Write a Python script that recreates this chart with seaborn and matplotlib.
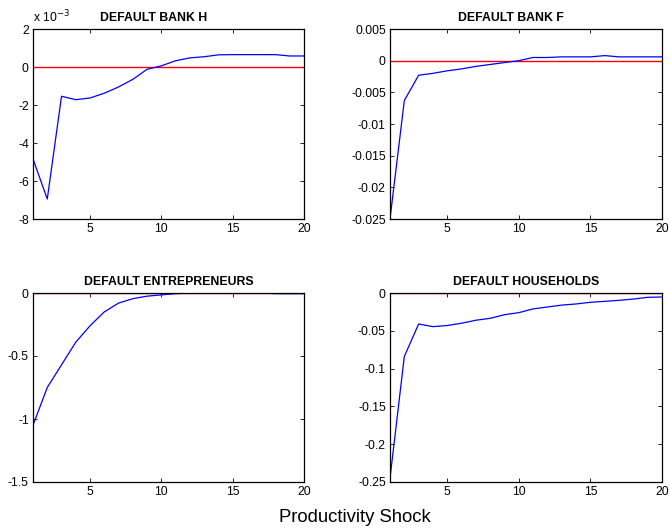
import numpy as np
import pandas as pd
import seaborn as sns
import matplotlib.pyplot as plt

# impulse responses, horizon 1..20
periods = list(range(1, 21))

bank_h = [-4.84e-3, -6.95e-3, -1.54e-3, -1.72e-3, -1.63e-3, -1.38e-3, -1.05e-3, -0.65e-3,
          -0.12e-3, 0.06e-3, 0.33e-3, 0.48e-3, 0.54e-3, 0.64e-3, 0.65e-3, 0.65e-3,
          0.65e-3, 0.65e-3, 0.58e-3, 0.58e-3]
bank_f = [-0.025, -0.0063, -0.0023, -0.0020, -0.0016, -0.0013, -0.0009, -0.0006,
          -0.0003, 0.0, 0.0005, 0.0005, 0.0006, 0.0006, 0.0006, 0.0008,
          0.0006, 0.0006, 0.0006, 0.0006]
entrepreneurs = [-1.05, -0.75, -0.57, -0.39, -0.26, -0.15, -0.08, -0.045,
                 -0.025, -0.015, -0.005, 0.0, 0.0, 0.0, 0.0, 0.0,
                 0.0, -0.005, -0.005, -0.005]
households = [-0.245, -0.084, -0.041, -0.0445, -0.043, -0.040, -0.036, -0.0335,
              -0.0287, -0.026, -0.021, -0.0185, -0.016, -0.0145, -0.0123, -0.011,
              -0.0097, -0.008, -0.0057, -0.0053]

titles = ['DEFAULT BANK H', 'DEFAULT BANK F', 'DEFAULT ENTREPRENEURS', 'DEFAULT HOUSEHOLDS']
ylims = [(-8, 2), (-0.025, 0.005), (-1.5, 0), (-0.25, 0)]
yticks = [[-8, -6, -4, -2, 0, 2],
          [-0.025, -0.02, -0.015, -0.01, -0.005, 0, 0.005],
          [-1.5, -1, -0.5, 0],
          [-0.25, -0.2, -0.15, -0.1, -0.05, 0]]
ytick_labels = [['-8', '-6', '-4', '-2', '0', '2'],
                ['-0.025', '-0.02', '-0.015', '-0.01', '-0.005', '0', '0.005'],
                ['-1.5', '-1', '-0.5', '0'],
                ['-0.25', '-0.2', '-0.15', '-0.1', '-0.05', '0']]

sns.set_style('ticks', {'xtick.direction': 'in', 'ytick.direction': 'in',
                        'text.color': 'black', 'xtick.color': 'black',
                        'ytick.color': 'black', 'axes.edgecolor': 'black'})
plt.rcParams['font.family'] = ['Liberation Sans', 'DejaVu Sans']

fig = plt.figure(figsize=(6.7, 5.3), dpi=100)
# axes boxes in figure fractions (left, bottom, width, height)
boxes = [(33/670, 1-219/530, 271/670, 190/530),
         (390/670, 1-219/530, 272/670, 190/530),
         (33/670, 1-482/530, 271/670, 189/530),
         (390/670, 1-482/530, 272/670, 189/530)]
# top titles sit a bit left of centre in the reference
title_x = [0.5 - 15/271, 0.5 - 15/272, 0.5, 0.5]

series = [np.array(bank_h) * 1e3, bank_f, entrepreneurs, households]

for i in range(4):
    ax = fig.add_axes(boxes[i])
    df = pd.DataFrame({'t': periods, 'v': series[i]})
    ax.axhline(0, color='red', lw=1.0, zorder=1)
    sns.lineplot(data=df, x='t', y='v', ax=ax, color='blue', lw=0.9, zorder=2)
    ax.set_xlim(1, 20)
    ax.set_ylim(*ylims[i])
    ax.set_xticks([5, 10, 15, 20])
    ax.set_yticks(yticks[i])
    ax.set_yticklabels(ytick_labels[i])
    ax.set_xlabel('')
    ax.set_ylabel('')
    ax.set_title(titles[i], fontsize=8.8, fontweight='bold', pad=6, x=title_x[i], color='black')
    ax.tick_params(labelsize=8.7, length=3, width=0.6, top=True, right=True, pad=3)
    for s in ax.spines.values():
        s.set_linewidth(0.9)
        s.set_visible(True)
    if i == 0:
        ax.text(0.0, 1.02, r'x 10$^{-3}$', transform=ax.transAxes, fontsize=8.7,
                ha='left', va='bottom', color='black')

fig.text(355/670, 1-518/530, 'Productivity Shock', ha='center', va='center',
         fontsize=13.3, color='black')

fig.savefig('out.png', dpi=100)
